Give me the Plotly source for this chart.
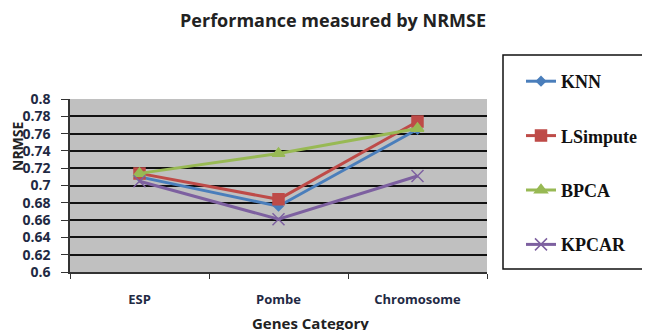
import plotly.graph_objects as go

categories = ["ESP", "Pombe", "Chromosome"]
knn = [0.710, 0.676, 0.765]
lsimpute = [0.714, 0.684, 0.774]
bpca = [0.714, 0.737, 0.766]
kpcar = [0.705, 0.661, 0.711]

series = [
    ("KNN", knn, "#4a7ebb", "diamond", 7),
    ("LSimpute", lsimpute, "#be4b48", "square", 11),
    ("BPCA", bpca, "#98b954", "triangle-up", 11),
    ("KPCAR", kpcar, "#7d60a0", "x-thin-open", 12),
]

# page body has an 8px offset; place everything relative to the figure origin
OFF = 8
W, H = 650, 330
PL, PT, PW, PH = 70 - OFF, 99 - OFF, 417, 173
PB = PT + PH


def px_x(wx):
    return (wx - OFF - PL) / PW


def px_y(wy):
    return (PB - (wy - OFF)) / PH


fig = go.Figure()
for name, vals, col, sym, sz in series:
    fig.add_trace(go.Scatter(
        x=categories, y=vals, name=name, mode="lines+markers",
        line=dict(color=col, width=3),
        marker=dict(symbol=sym, size=sz, color=col, line=dict(color=col, width=1.5)),
        legendgroup=name,
    ))

xfont = dict(family="Open Sans", size=13, color="#1f2a44", weight="bold")
yfont = dict(family="Open Sans", size=14, color="#1f2a44", weight="bold")

fig.update_layout(
    width=W, height=H,
    margin=dict(l=PL, r=W - PL - PW, t=PT, b=H - PB),
    paper_bgcolor="white",
    plot_bgcolor="#c0c0c0",
    showlegend=True,
    title=dict(text="<b>Performance measured by NRMSE</b>", x=(333 - OFF) / W, xref="container",
               xanchor="center", y=1 - (21 - OFF) / H, yref="container", yanchor="middle",
               font=dict(family="Open Sans", size=18, color="#222")),
    legend=dict(
        xref="container", yref="container",
        x=(521 - OFF) / W, y=1 - (63 - OFF) / H, xanchor="left", yanchor="top",
        borderwidth=0, bgcolor="rgba(0,0,0,0)",
        font=dict(family="Liberation Serif", size=18, color="#111", weight="bold"),
        tracegroupgap=28, entrywidth=110, maxheight=300,
    ),
    xaxis=dict(
        type="category", showgrid=False, ticks="outside", ticklen=5, tickcolor="#333",
        tickson="boundaries", showline=True, linecolor="#333", linewidth=1.5,
        tickfont=xfont, ticklabelstandoff=15, range=[-0.5, 2.5], automargin=False,
    ),
    yaxis=dict(
        range=[0.6, 0.8], dtick=0.02, tickformat="~g", showgrid=True, gridcolor="#111", gridwidth=1.5,
        ticks="outside", ticklen=7, tickcolor="#333", showline=True, linecolor="#333", linewidth=1.5,
        tickfont=yfont, ticklabelstandoff=8, zeroline=False, automargin=False,
    ),
)

# legend frame
fig.add_shape(type="rect", xref="paper", yref="paper",
              x0=px_x(503), x1=px_x(648), y0=px_y(269), y1=px_y(55),
              line=dict(color="#111", width=1.5), fillcolor="rgba(0,0,0,0)", layer="below")

fig.add_annotation(text="<b>Genes Category</b>", xref="paper", yref="paper",
                   x=px_x(310), y=px_y(323), showarrow=False,
                   xanchor="center", yanchor="middle",
                   font=dict(family="Open Sans", size=15, color="#222"))
fig.add_annotation(text="<b>NRMSE</b>", xref="paper", yref="paper", textangle=-90,
                   x=px_x(17), y=px_y(146), showarrow=False,
                   xanchor="center", yanchor="middle",
                   font=dict(family="Open Sans", size=14, color="#222"))

fig.write_html("out.html")
